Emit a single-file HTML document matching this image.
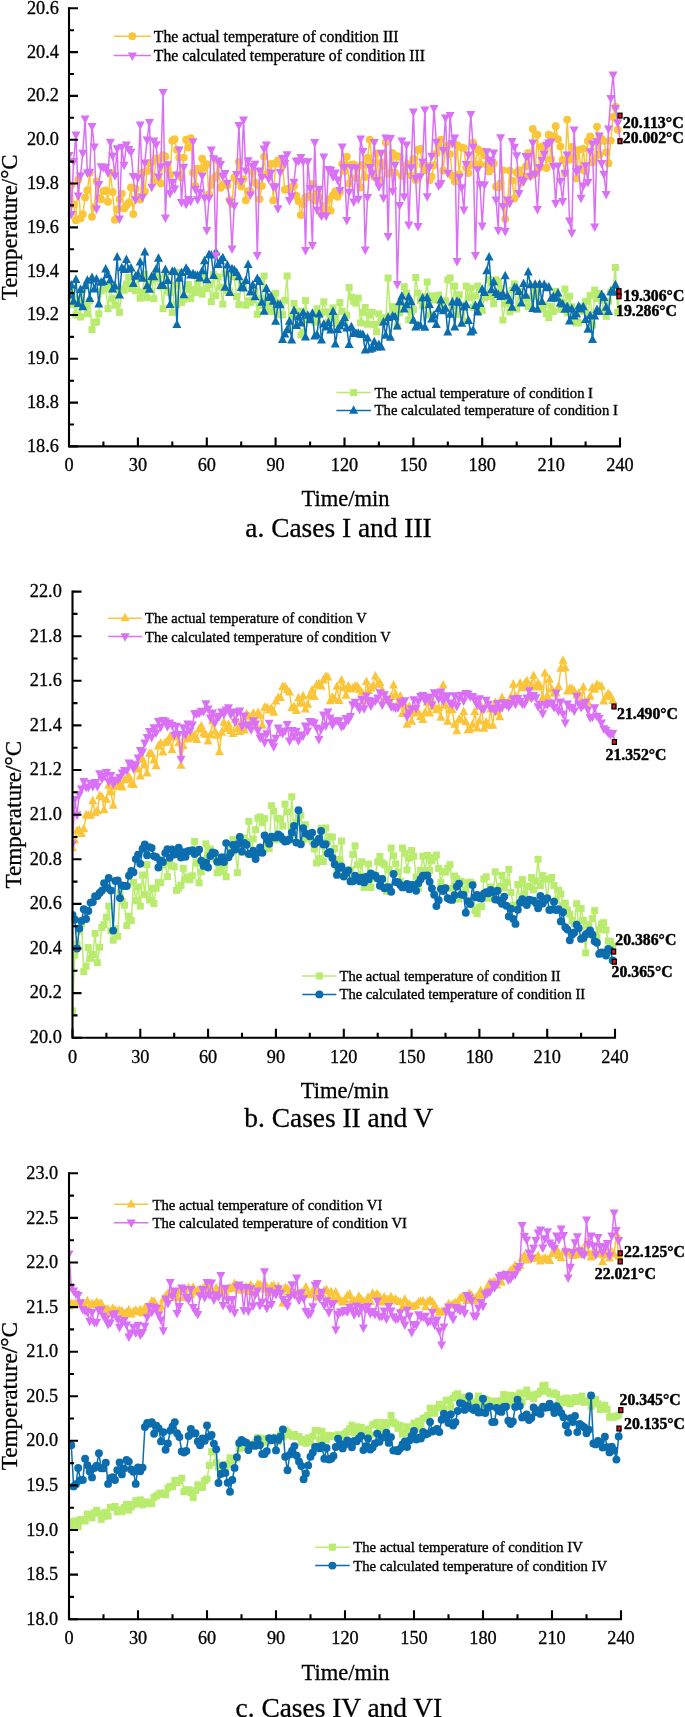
<!DOCTYPE html>
<html lang="en"><head><meta charset="utf-8"><title>Temperature charts</title>
<style>html,body{margin:0;padding:0;background:#fff}svg{display:block;will-change:transform}</style></head>
<body>
<svg width="685" height="1717" viewBox="0 0 685 1717" font-family='"Liberation Serif", serif' fill="#000">
<defs><marker id="mYc" markerWidth="12" markerHeight="12" refX="6" refY="6" markerUnits="userSpaceOnUse" orient="0"><circle cx="6" cy="6" r="3.95" fill="#FBC53A"/></marker><marker id="mYu" markerWidth="12" markerHeight="12" refX="6" refY="6" markerUnits="userSpaceOnUse" orient="0"><path d="M6 0.6 L10.5 9.1 L1.5 9.1 Z" fill="#FBC53A"/></marker><marker id="mPd" markerWidth="12" markerHeight="12" refX="6" refY="6" markerUnits="userSpaceOnUse" orient="0"><path d="M6 11.4 L10.5 2.9 L1.5 2.9 Z" fill="#DA70F5"/></marker><marker id="mGs" markerWidth="12" markerHeight="12" refX="6" refY="6" markerUnits="userSpaceOnUse" orient="0"><rect x="2.5" y="2.5" width="7.0" height="7.0" fill="#B9EC6E"/></marker><marker id="mBu" markerWidth="12" markerHeight="12" refX="6" refY="6" markerUnits="userSpaceOnUse" orient="0"><path d="M6 0.6 L10.5 9.1 L1.5 9.1 Z" fill="#0B6DAE"/></marker><marker id="mBc" markerWidth="12" markerHeight="12" refX="6" refY="6" markerUnits="userSpaceOnUse" orient="0"><circle cx="6" cy="6" r="3.95" fill="#0B6DAE"/></marker></defs>
<g>
<clipPath id="cl1"><rect x="68.2" y="-1.7" width="700" height="448.1"/></clipPath><g clip-path="url(#cl1)">
<polyline points="69.0,299.9 71.3,288.6 73.6,304.6 75.9,314.9 78.2,298.9 80.5,317.0 82.8,289.2 85.1,305.9 87.4,313.8 89.7,300.9 92.0,329.7 94.3,322.5 96.5,321.8 98.8,313.9 101.1,291.0 103.4,288.7 105.7,288.1 108.0,308.6 110.3,284.9 112.6,298.7 114.9,305.2 117.2,289.7 119.5,312.3 121.8,288.7 124.1,290.3 126.4,284.0 128.7,277.3 131.0,288.6 133.3,287.5 135.6,290.9 137.9,275.9 140.2,298.2 142.5,291.9 144.8,274.3 147.1,297.7 149.4,282.2 151.7,280.0 153.9,298.7 156.2,272.4 158.5,278.8 160.8,286.3 163.1,308.7 165.4,274.3 167.7,291.1 170.0,292.5 172.3,312.3 174.6,285.3 176.9,304.5 179.2,272.5 181.5,302.5 183.8,299.3 186.1,289.8 188.4,284.6 190.7,298.6 193.0,289.5 195.3,292.6 197.6,282.7 199.9,290.0 202.2,294.2 204.5,274.8 206.8,288.5 209.0,284.5 211.3,301.7 213.6,274.4 215.9,295.6 218.2,277.0 220.5,287.1 222.8,304.2 225.1,273.7 227.4,290.8 229.7,290.7 232.0,275.4 234.3,276.9 236.6,296.5 238.9,304.6 241.2,284.0 243.5,287.0 245.8,305.3 248.1,300.9 250.4,302.6 252.7,300.0 255.0,291.6 257.3,314.3 259.6,305.5 261.9,298.2 264.1,276.0 266.4,310.8 268.7,304.1 271.0,301.6 273.3,311.6 275.6,293.3 277.9,302.5 280.2,314.9 282.5,314.7 284.8,300.3 287.1,276.0 289.4,326.1 291.7,317.1 294.0,303.4 296.3,315.7 298.6,311.1 300.9,335.0 303.2,332.6 305.5,300.6 307.8,319.8 310.1,319.5 312.4,316.0 314.7,322.2 317.0,308.8 319.2,315.4 321.5,312.5 323.8,301.9 326.1,311.8 328.4,322.3 330.7,316.7 333.0,307.8 335.3,317.7 337.6,323.7 339.9,302.6 342.2,311.2 344.5,322.0 346.8,315.2 349.1,287.5 351.4,297.1 353.7,301.3 356.0,303.2 358.3,298.1 360.6,322.9 362.9,312.3 365.2,307.5 367.5,324.2 369.8,315.0 372.1,312.3 374.3,324.6 376.6,331.8 378.9,314.0 381.2,322.4 383.5,317.7 385.8,320.4 388.1,278.0 390.4,315.9 392.7,306.7 395.0,308.5 397.3,326.6 399.6,312.8 401.9,305.2 404.2,286.7 406.5,293.3 408.8,319.8 411.1,311.6 413.4,309.6 415.7,277.5 418.0,293.2 420.3,300.7 422.6,305.6 424.9,296.6 427.2,282.0 429.4,315.0 431.7,295.8 434.0,300.0 436.3,297.8 438.6,295.1 440.9,303.3 443.2,304.4 445.5,300.7 447.8,280.0 450.1,278.0 452.4,306.5 454.7,286.1 457.0,314.4 459.3,294.7 461.6,305.3 463.9,321.2 466.2,286.2 468.5,297.7 470.8,288.1 473.1,307.3 475.4,295.8 477.7,286.1 480.0,308.0 482.2,310.5 484.5,297.9 486.8,293.9 489.1,279.7 491.4,296.6 493.7,303.7 496.0,279.7 498.3,281.8 500.6,288.5 502.9,320.0 505.2,303.9 507.5,301.6 509.8,311.9 512.1,290.2 514.4,283.9 516.7,309.0 519.0,291.3 521.3,297.2 523.6,299.0 525.9,299.0 528.2,306.6 530.5,297.6 532.8,296.2 535.1,288.5 537.4,292.9 539.6,301.1 541.9,308.3 544.2,305.1 546.5,313.7 548.8,317.7 551.1,306.3 553.4,311.6 555.7,291.3 558.0,297.7 560.3,309.3 562.6,302.4 564.9,289.1 567.2,312.8 569.5,296.2 571.8,306.8 574.1,320.0 576.4,323.0 578.7,322.8 581.0,306.4 583.3,311.1 585.6,301.3 587.9,315.4 590.2,295.6 592.5,325.0 594.7,290.1 597.0,298.5 599.3,293.4 601.6,300.4 603.9,311.4 606.2,316.4 608.5,301.3 610.8,292.2 613.1,289.5 615.4,267.5 617.7,312.4 620.0,288.3" fill="none" stroke="#B9EC6E" stroke-width="1.5" stroke-linejoin="round" marker-start="url(#mGs)" marker-mid="url(#mGs)"/>
<polyline points="69.0,295.3 71.3,285.3 73.6,301.6 75.9,280.0 78.2,304.0 80.5,289.8 82.8,307.2 85.1,286.2 87.4,280.6 89.7,298.9 92.0,277.9 94.3,289.5 96.5,279.3 98.8,304.5 101.1,282.6 103.4,281.8 105.7,269.4 108.0,275.1 110.3,280.5 112.6,289.4 114.9,286.5 117.2,257.5 119.5,295.5 121.8,268.2 124.1,269.8 126.4,259.8 128.7,269.7 131.0,268.4 133.3,283.9 135.6,276.6 137.9,274.7 140.2,262.3 142.5,278.7 144.8,252.5 147.1,286.1 149.4,289.7 151.7,276.9 153.9,277.2 156.2,269.5 158.5,258.6 160.8,286.0 163.1,285.9 165.4,270.0 167.7,281.0 170.0,305.0 172.3,271.7 174.6,271.8 176.9,325.0 179.2,278.6 181.5,273.0 183.8,295.1 186.1,268.6 188.4,271.8 190.7,275.4 193.0,274.2 195.3,275.7 197.6,276.0 199.9,278.4 202.2,271.2 204.5,261.1 206.8,280.1 209.0,255.0 211.3,255.5 213.6,275.8 215.9,252.5 218.2,265.0 220.5,261.1 222.8,258.1 225.1,287.7 227.4,265.3 229.7,292.9 232.0,269.2 234.3,270.4 236.6,273.0 238.9,277.1 241.2,287.8 243.5,288.4 245.8,280.8 248.1,265.0 250.4,292.4 252.7,285.5 255.0,297.1 257.3,278.9 259.6,282.0 261.9,302.6 264.1,311.7 266.4,288.8 268.7,297.9 271.0,296.3 273.3,301.7 275.6,321.6 277.9,304.8 280.2,305.1 282.5,340.0 284.8,334.5 287.1,330.2 289.4,321.6 291.7,340.5 294.0,311.0 296.3,325.8 298.6,317.2 300.9,323.4 303.2,312.8 305.5,337.4 307.8,315.6 310.1,320.1 312.4,313.7 314.7,336.5 317.0,335.2 319.2,314.4 321.5,340.5 323.8,324.3 326.1,327.4 328.4,322.8 330.7,330.3 333.0,311.9 335.3,344.5 337.6,329.9 339.9,326.5 342.2,323.3 344.5,318.0 346.8,328.5 349.1,345.0 351.4,327.1 353.7,333.8 356.0,333.6 358.3,333.6 360.6,334.6 362.9,334.9 365.2,350.4 367.5,338.3 369.8,349.6 372.1,348.7 374.3,342.1 376.6,347.5 378.9,345.0 381.2,347.5 383.5,322.3 385.8,335.6 388.1,318.0 390.4,337.7 392.7,316.4 395.0,317.1 397.3,326.4 399.6,302.1 401.9,296.4 404.2,309.4 406.5,305.2 408.8,297.5 411.1,302.2 413.4,320.7 415.7,327.5 418.0,325.9 420.3,326.0 422.6,298.5 424.9,327.7 427.2,298.0 429.4,304.9 431.7,319.3 434.0,315.3 436.3,324.8 438.6,309.2 440.9,300.4 443.2,311.1 445.5,308.6 447.8,332.5 450.1,314.6 452.4,302.4 454.7,327.4 457.0,301.7 459.3,303.0 461.6,323.6 463.9,307.4 466.2,305.1 468.5,320.9 470.8,332.5 473.1,330.6 475.4,305.9 477.7,312.5 480.0,304.0 482.2,289.6 484.5,292.9 486.8,271.2 489.1,257.5 491.4,290.2 493.7,282.2 496.0,293.0 498.3,295.0 500.6,297.0 502.9,294.1 505.2,276.2 507.5,296.3 509.8,300.6 512.1,307.7 514.4,288.0 516.7,288.4 519.0,291.8 521.3,303.4 523.6,284.0 525.9,295.7 528.2,272.5 530.5,285.2 532.8,308.9 535.1,284.7 537.4,309.7 539.6,284.5 541.9,301.8 544.2,284.8 546.5,288.2 548.8,287.5 551.1,298.7 553.4,296.8 555.7,298.6 558.0,293.3 560.3,303.3 562.6,304.5 564.9,309.6 567.2,307.0 569.5,321.3 571.8,309.2 574.1,316.5 576.4,314.1 578.7,306.6 581.0,309.4 583.3,307.1 585.6,320.0 587.9,329.6 590.2,315.9 592.5,340.0 594.7,316.4 597.0,309.9 599.3,312.0 601.6,294.9 603.9,297.9 606.2,307.6 608.5,312.0 610.8,292.1 613.1,292.5 615.4,285.2 617.7,292.5 620.0,296.0" fill="none" stroke="#0B6DAE" stroke-width="1.5" stroke-linejoin="round" marker-start="url(#mBu)" marker-mid="url(#mBu)"/>
<polyline points="69.0,204.0 71.3,185.1 73.6,204.4 75.9,220.2 78.2,179.8 80.5,218.4 82.8,214.1 85.1,197.4 87.4,190.2 89.7,172.7 92.0,216.7 94.3,206.9 96.5,181.2 98.8,198.0 101.1,199.4 103.4,191.2 105.7,190.4 108.0,201.7 110.3,172.8 112.6,191.9 114.9,219.8 117.2,209.4 119.5,199.2 121.8,193.6 124.1,208.5 126.4,205.5 128.7,202.7 131.0,187.5 133.3,214.1 135.6,188.7 137.9,197.0 140.2,199.6 142.5,172.4 144.8,191.5 147.1,170.9 149.4,163.2 151.7,162.1 153.9,180.9 156.2,158.1 158.5,158.8 160.8,183.5 163.1,155.1 165.4,156.4 167.7,169.3 170.0,174.8 172.3,140.7 174.6,139.3 176.9,149.8 179.2,157.6 181.5,177.5 183.8,157.6 186.1,139.8 188.4,147.6 190.7,138.2 193.0,172.8 195.3,185.8 197.6,168.6 199.9,170.2 202.2,158.6 204.5,167.9 206.8,164.1 209.0,194.2 211.3,185.3 213.6,178.5 215.9,176.0 218.2,161.1 220.5,187.8 222.8,184.6 225.1,184.7 227.4,185.4 229.7,199.9 232.0,204.1 234.3,177.4 236.6,181.1 238.9,161.9 241.2,186.6 243.5,179.1 245.8,200.3 248.1,191.3 250.4,191.8 252.7,171.9 255.0,182.5 257.3,185.1 259.6,199.1 261.9,185.9 264.1,156.6 266.4,174.6 268.7,173.1 271.0,163.9 273.3,200.4 275.6,163.8 277.9,160.4 280.2,162.1 282.5,165.8 284.8,189.8 287.1,189.0 289.4,188.5 291.7,187.1 294.0,185.9 296.3,195.8 298.6,201.2 300.9,215.0 303.2,204.2 305.5,197.2 307.8,197.2 310.1,195.6 312.4,184.0 314.7,200.6 317.0,193.1 319.2,197.3 321.5,214.2 323.8,205.7 326.1,209.2 328.4,199.2 330.7,210.6 333.0,195.3 335.3,191.5 337.6,196.7 339.9,191.9 342.2,164.1 344.5,171.0 346.8,156.8 349.1,183.5 351.4,164.6 353.7,164.5 356.0,177.9 358.3,166.4 360.6,187.5 362.9,164.7 365.2,177.1 367.5,157.8 369.8,139.7 372.1,163.3 374.3,177.1 376.6,153.5 378.9,179.6 381.2,162.7 383.5,166.0 385.8,142.4 388.1,173.9 390.4,172.2 392.7,153.1 395.0,172.6 397.3,156.3 399.6,156.6 401.9,175.9 404.2,171.6 406.5,164.9 408.8,164.3 411.1,175.6 413.4,158.8 415.7,179.9 418.0,149.9 420.3,149.0 422.6,165.0 424.9,170.0 427.2,166.0 429.4,180.3 431.7,176.6 434.0,165.2 436.3,153.4 438.6,147.1 440.9,139.8 443.2,170.5 445.5,149.5 447.8,145.5 450.1,154.1 452.4,176.0 454.7,181.5 457.0,144.9 459.3,174.2 461.6,147.5 463.9,148.1 466.2,167.7 468.5,173.1 470.8,165.0 473.1,142.6 475.4,164.5 477.7,149.3 480.0,164.2 482.2,151.5 484.5,155.4 486.8,164.6 489.1,171.4 491.4,169.3 493.7,163.5 496.0,186.8 498.3,187.4 500.6,183.3 502.9,170.1 505.2,219.0 507.5,203.2 509.8,170.8 512.1,180.6 514.4,198.4 516.7,172.8 519.0,170.3 521.3,182.8 523.6,176.0 525.9,166.5 528.2,153.0 530.5,176.1 532.8,129.0 535.1,173.5 537.4,134.8 539.6,167.7 541.9,146.6 544.2,147.6 546.5,168.0 548.8,134.8 551.1,159.1 553.4,136.3 555.7,126.2 558.0,139.3 560.3,146.4 562.6,159.9 564.9,173.3 567.2,119.6 569.5,159.7 571.8,146.9 574.1,156.7 576.4,178.4 578.7,150.0 581.0,169.6 583.3,148.7 585.6,171.2 587.9,141.0 590.2,136.4 592.5,162.4 594.7,158.4 597.0,126.6 599.3,154.7 601.6,138.9 603.9,140.9 606.2,152.2 608.5,163.2 610.8,140.6 613.1,117.0 615.4,106.7 617.7,129.8 620.0,115.6" fill="none" stroke="#FBC53A" stroke-width="1.5" stroke-linejoin="round" marker-start="url(#mYc)" marker-mid="url(#mYc)"/>
<polyline points="69.0,155.0 71.3,214.0 73.6,161.2 75.9,134.5 78.2,195.5 80.5,175.3 82.8,152.8 85.1,118.5 87.4,172.7 89.7,171.8 92.0,126.0 94.3,146.7 96.5,208.5 98.8,184.2 101.1,166.4 103.4,167.1 105.7,166.9 108.0,172.6 110.3,141.8 112.6,155.6 114.9,175.3 117.2,148.4 119.5,218.5 121.8,146.9 124.1,164.9 126.4,144.5 128.7,149.1 131.0,151.8 133.3,176.0 135.6,199.4 137.9,177.5 140.2,124.5 142.5,196.9 144.8,162.6 147.1,139.5 149.4,122.0 151.7,186.9 153.9,140.7 156.2,144.3 158.5,176.5 160.8,166.4 163.1,92.0 165.4,217.5 167.7,164.4 170.0,193.0 172.3,181.9 174.6,188.6 176.9,174.5 179.2,149.5 181.5,202.0 183.8,166.8 186.1,203.9 188.4,199.0 190.7,200.8 193.0,141.4 195.3,188.9 197.6,199.4 199.9,192.2 202.2,175.5 204.5,197.6 206.8,230.0 209.0,197.9 211.3,149.5 213.6,158.3 215.9,255.0 218.2,160.6 220.5,164.1 222.8,175.8 225.1,173.0 227.4,182.8 229.7,201.6 232.0,248.5 234.3,205.7 236.6,174.0 238.9,125.0 241.2,181.0 243.5,119.5 245.8,170.6 248.1,160.3 250.4,194.5 252.7,166.2 255.0,163.8 257.3,255.0 259.6,170.7 261.9,177.0 264.1,148.6 266.4,144.5 268.7,178.5 271.0,172.7 273.3,186.3 275.6,186.4 277.9,208.4 280.2,172.2 282.5,158.1 284.8,163.1 287.1,154.4 289.4,200.1 291.7,195.7 294.0,181.8 296.3,160.8 298.6,160.5 300.9,157.2 303.2,161.4 305.5,250.0 307.8,161.3 310.1,188.2 312.4,245.0 314.7,142.0 317.0,209.7 319.2,188.9 321.5,215.6 323.8,156.5 326.1,215.5 328.4,169.2 330.7,169.9 333.0,176.3 335.3,172.5 337.6,179.6 339.9,190.1 342.2,146.5 344.5,167.1 346.8,220.0 349.1,191.8 351.4,167.4 353.7,201.6 356.0,167.6 358.3,198.8 360.6,138.5 362.9,151.1 365.2,249.5 367.5,197.1 369.8,167.1 372.1,173.3 374.3,142.0 376.6,180.2 378.9,186.3 381.2,152.9 383.5,197.7 385.8,137.5 388.1,236.0 390.4,138.2 392.7,190.9 395.0,164.9 397.3,284.0 399.6,205.0 401.9,140.6 404.2,196.4 406.5,144.5 408.8,224.5 411.1,167.4 413.4,111.5 415.7,178.2 418.0,226.0 420.3,176.4 422.6,161.5 424.9,109.5 427.2,196.3 429.4,167.4 431.7,155.9 434.0,108.0 436.3,141.9 438.6,185.5 440.9,183.1 443.2,150.2 445.5,117.5 447.8,172.8 450.1,115.0 452.4,143.1 454.7,137.5 457.0,261.0 459.3,176.9 461.6,187.4 463.9,209.5 466.2,164.0 468.5,154.6 470.8,114.0 473.1,146.8 475.4,255.0 477.7,169.4 480.0,184.3 482.2,225.5 484.5,184.5 486.8,151.4 489.1,159.6 491.4,162.0 493.7,152.6 496.0,199.5 498.3,230.0 500.6,137.4 502.9,206.2 505.2,231.0 507.5,199.5 509.8,202.9 512.1,141.0 514.4,146.9 516.7,155.3 519.0,193.0 521.3,179.7 523.6,181.1 525.9,156.0 528.2,156.1 530.5,175.9 532.8,142.5 535.1,173.9 537.4,209.0 539.6,167.1 541.9,160.2 544.2,153.8 546.5,144.9 548.8,142.5 551.1,141.6 553.4,166.0 555.7,203.0 558.0,165.7 560.3,180.9 562.6,201.0 564.9,172.9 567.2,154.5 569.5,220.5 571.8,232.5 574.1,129.5 576.4,171.2 578.7,168.7 581.0,197.8 583.3,185.5 585.6,165.3 587.9,182.0 590.2,151.4 592.5,143.5 594.7,226.5 597.0,141.4 599.3,135.5 601.6,163.0 603.9,173.9 606.2,194.0 608.5,128.6 610.8,98.0 613.1,74.5 615.4,108.0 617.7,122.5 620.0,139.5" fill="none" stroke="#DA70F5" stroke-width="1.5" stroke-linejoin="round" marker-start="url(#mPd)" marker-mid="url(#mPd)"/>
</g>
<path d="M69.0 8.3 V446.4 H620.0" fill="none" stroke="#000" stroke-width="2.1" stroke-linecap="square"/>
<text x="58.9" y="13.7" font-size="18.25" text-anchor="end" stroke="#000" stroke-width="0.3">20.6</text>
<text x="58.9" y="57.5" font-size="18.25" text-anchor="end" stroke="#000" stroke-width="0.3">20.4</text>
<text x="58.9" y="101.3" font-size="18.25" text-anchor="end" stroke="#000" stroke-width="0.3">20.2</text>
<text x="58.9" y="145.1" font-size="18.25" text-anchor="end" stroke="#000" stroke-width="0.3">20.0</text>
<text x="58.9" y="188.9" font-size="18.25" text-anchor="end" stroke="#000" stroke-width="0.3">19.8</text>
<text x="58.9" y="232.8" font-size="18.25" text-anchor="end" stroke="#000" stroke-width="0.3">19.6</text>
<text x="58.9" y="276.6" font-size="18.25" text-anchor="end" stroke="#000" stroke-width="0.3">19.4</text>
<text x="58.9" y="320.4" font-size="18.25" text-anchor="end" stroke="#000" stroke-width="0.3">19.2</text>
<text x="58.9" y="364.2" font-size="18.25" text-anchor="end" stroke="#000" stroke-width="0.3">19.0</text>
<text x="58.9" y="408.0" font-size="18.25" text-anchor="end" stroke="#000" stroke-width="0.3">18.8</text>
<text x="58.9" y="451.8" font-size="18.25" text-anchor="end" stroke="#000" stroke-width="0.3">18.6</text>
<text x="69.0" y="470.8" font-size="18.25" text-anchor="middle" stroke="#000" stroke-width="0.3">0</text>
<text x="137.9" y="470.8" font-size="18.25" text-anchor="middle" stroke="#000" stroke-width="0.3">30</text>
<text x="206.8" y="470.8" font-size="18.25" text-anchor="middle" stroke="#000" stroke-width="0.3">60</text>
<text x="275.6" y="470.8" font-size="18.25" text-anchor="middle" stroke="#000" stroke-width="0.3">90</text>
<text x="344.5" y="470.8" font-size="18.25" text-anchor="middle" stroke="#000" stroke-width="0.3">120</text>
<text x="413.4" y="470.8" font-size="18.25" text-anchor="middle" stroke="#000" stroke-width="0.3">150</text>
<text x="482.2" y="470.8" font-size="18.25" text-anchor="middle" stroke="#000" stroke-width="0.3">180</text>
<text x="551.1" y="470.8" font-size="18.25" text-anchor="middle" stroke="#000" stroke-width="0.3">210</text>
<text x="620.0" y="470.8" font-size="18.25" text-anchor="middle" stroke="#000" stroke-width="0.3">240</text>
<path d="M69.0 8.3h9.0M69.0 30.2h5.0M69.0 52.1h9.0M69.0 74.0h5.0M69.0 95.9h9.0M69.0 117.8h5.0M69.0 139.7h9.0M69.0 161.6h5.0M69.0 183.5h9.0M69.0 205.4h5.0M69.0 227.4h9.0M69.0 249.3h5.0M69.0 271.2h9.0M69.0 293.1h5.0M69.0 315.0h9.0M69.0 336.9h5.0M69.0 358.8h9.0M69.0 380.7h5.0M69.0 402.6h9.0M69.0 424.5h5.0M69.0 446.4h9.0M69.0 446.4v-9.0M103.4 446.4v-5.0M137.9 446.4v-9.0M172.3 446.4v-5.0M206.8 446.4v-9.0M241.2 446.4v-5.0M275.6 446.4v-9.0M310.1 446.4v-5.0M344.5 446.4v-9.0M378.9 446.4v-5.0M413.4 446.4v-9.0M447.8 446.4v-5.0M482.2 446.4v-9.0M516.7 446.4v-5.0M551.1 446.4v-9.0M585.6 446.4v-5.0M620.0 446.4v-9.0" fill="none" stroke="#000" stroke-width="2.1"/>
<text transform="translate(16.9 227.3) rotate(-90)" font-size="22.83" text-anchor="middle" stroke="#000" stroke-width="0.3">Temperature/°C</text>
<text x="345.5" y="505.9" font-size="22.55" text-anchor="middle" stroke="#000" stroke-width="0.3">Time/min</text>
<text x="338.5" y="536.8" font-size="27.4" text-anchor="middle" stroke="#000" stroke-width="0.3">a. Cases I and III</text>
<polyline points="113.8,36.3 132.3,36.3 150.9,36.3" stroke="#FBC53A" stroke-width="1.5" fill="none" marker-mid="url(#mYc)"/>
<text x="153.8" y="41.9" font-size="15.7" text-anchor="start" textLength="244.8" lengthAdjust="spacingAndGlyphs" stroke="#000" stroke-width="0.35">The actual temperature of condition III</text>
<polyline points="113.8,55.5 132.3,55.5 150.9,55.5" stroke="#DA70F5" stroke-width="1.5" fill="none" marker-mid="url(#mPd)"/>
<text x="153.8" y="61.1" font-size="15.7" text-anchor="start" textLength="271.1" lengthAdjust="spacingAndGlyphs" stroke="#000" stroke-width="0.35">The calculated temperature of condition III</text>
<polyline points="336.4,392.6 353.6,392.6 370.9,392.6" stroke="#B9EC6E" stroke-width="1.5" fill="none" marker-mid="url(#mGs)"/>
<text x="374.6" y="397.7" font-size="14.63" text-anchor="start" textLength="218.4" lengthAdjust="spacingAndGlyphs" stroke="#000" stroke-width="0.35">The actual temperature of condition I</text>
<polyline points="336.4,410.6 353.6,410.6 370.9,410.6" stroke="#0B6DAE" stroke-width="1.5" fill="none" marker-mid="url(#mBu)"/>
<text x="374.6" y="415.4" font-size="14.63" text-anchor="start" textLength="243.2" lengthAdjust="spacingAndGlyphs" stroke="#000" stroke-width="0.35">The calculated temperature of condition I</text>
<rect x="618.0" y="113.2" width="4.0" height="4.8" fill="#e8101a" stroke="#000" stroke-width="1.3"/>
<rect x="618.0" y="138.8" width="4.0" height="4.8" fill="#e8101a" stroke="#000" stroke-width="1.3"/>
<rect x="617.0" y="288.8" width="4.0" height="4.8" fill="#e8101a" stroke="#000" stroke-width="1.3"/>
<rect x="617.0" y="293.9" width="4.0" height="4.8" fill="#e8101a" stroke="#000" stroke-width="1.3"/>
<text x="622.8" y="127.9" font-size="15.7" text-anchor="start" font-weight="bold" textLength="61.0" lengthAdjust="spacingAndGlyphs" stroke="#000" stroke-width="0.45">20.113°C</text>
<text x="622.8" y="143.2" font-size="15.7" text-anchor="start" font-weight="bold" textLength="61.0" lengthAdjust="spacingAndGlyphs" stroke="#000" stroke-width="0.45">20.002°C</text>
<text x="623.3" y="300.8" font-size="15.7" text-anchor="start" font-weight="bold" textLength="61.0" lengthAdjust="spacingAndGlyphs" stroke="#000" stroke-width="0.45">19.306°C</text>
<text x="616.0" y="315.7" font-size="15.7" text-anchor="start" font-weight="bold" textLength="61.0" lengthAdjust="spacingAndGlyphs" stroke="#000" stroke-width="0.45">19.286°C</text>
</g>
<g>
<clipPath id="cl5"><rect x="71.7" y="581.6" width="700" height="456.1"/></clipPath><g clip-path="url(#cl5)">
<polyline points="72.5,1010.9 74.8,955.1 77.0,944.1 79.3,930.8 81.5,923.6 83.8,971.6 86.1,966.2 88.3,947.6 90.6,958.3 92.8,954.5 95.1,933.4 97.4,962.7 99.6,947.3 101.9,927.3 104.1,924.6 106.4,917.3 108.7,906.2 110.9,930.9 113.2,940.2 115.4,928.7 117.7,936.3 120.0,892.9 122.2,901.2 124.5,905.2 126.8,925.7 129.0,916.2 131.3,920.6 133.5,882.3 135.8,900.7 138.1,886.9 140.3,906.1 142.6,875.0 144.8,894.6 147.1,864.6 149.4,900.0 151.6,888.4 153.9,903.6 156.1,888.2 158.4,882.4 160.7,882.7 162.9,864.8 165.2,862.9 167.4,876.6 169.7,860.3 172.0,865.7 174.2,866.7 176.5,890.4 178.7,888.0 181.0,885.3 183.3,868.3 185.5,879.3 187.8,876.8 190.0,879.8 192.3,875.8 194.6,841.4 196.8,863.1 199.1,882.8 201.3,871.9 203.6,866.4 205.9,843.9 208.1,855.3 210.4,849.1 212.6,856.4 214.9,858.9 217.2,872.8 219.4,867.9 221.7,871.7 223.9,864.4 226.2,876.8 228.5,854.4 230.7,850.5 233.0,839.6 235.2,847.5 237.5,872.7 239.8,840.9 242.0,852.5 244.3,838.2 246.6,841.5 248.8,821.3 251.1,854.0 253.3,838.9 255.6,829.7 257.9,818.2 260.1,816.9 262.4,822.7 264.6,818.6 266.9,845.5 269.2,848.7 271.4,805.7 273.7,811.1 275.9,839.7 278.2,818.4 280.5,819.3 282.7,826.0 285.0,804.2 287.2,811.9 289.5,839.9 291.8,796.8 294.0,834.7 296.3,822.5 298.5,817.6 300.8,815.3 303.1,839.8 305.3,824.7 307.6,835.7 309.8,838.2 312.1,840.9 314.4,849.0 316.6,862.9 318.9,858.7 321.1,828.4 323.4,861.6 325.7,828.0 327.9,841.3 330.2,836.8 332.4,837.1 334.7,848.4 337.0,869.5 339.2,859.4 341.5,841.1 343.8,872.9 346.0,875.0 348.3,872.8 350.5,869.9 352.8,854.4 355.1,845.9 357.3,864.8 359.6,876.4 361.8,861.8 364.1,887.4 366.4,877.2 368.6,864.0 370.9,887.5 373.1,878.0 375.4,875.3 377.7,861.9 379.9,856.5 382.2,862.8 384.4,864.7 386.7,891.3 389.0,869.6 391.2,848.1 393.5,855.8 395.7,863.9 398.0,871.9 400.3,881.5 402.5,848.0 404.8,853.4 407.0,870.0 409.3,858.1 411.6,850.6 413.8,856.2 416.1,877.1 418.3,888.5 420.6,870.3 422.9,856.2 425.1,870.5 427.4,855.4 429.6,870.5 431.9,860.9 434.2,857.4 436.4,855.0 438.7,868.5 440.9,882.5 443.2,871.8 445.5,872.1 447.7,868.2 450.0,864.7 452.2,888.3 454.5,876.0 456.8,878.8 459.0,899.0 461.3,881.4 463.6,894.2 465.8,889.6 468.1,882.8 470.3,882.2 472.6,884.3 474.9,910.6 477.1,913.8 479.4,906.9 481.6,906.6 483.9,878.9 486.2,876.8 488.4,898.3 490.7,887.0 492.9,896.8 495.2,871.9 497.5,890.5 499.7,886.3 502.0,875.5 504.2,887.9 506.5,882.3 508.8,869.3 511.0,892.5 513.3,905.3 515.5,908.5 517.8,884.4 520.1,903.0 522.3,879.5 524.6,893.5 526.8,886.1 529.1,886.9 531.4,877.5 533.6,889.9 535.9,880.9 538.1,859.3 540.4,885.8 542.7,875.6 544.9,879.0 547.2,899.0 549.4,879.0 551.7,877.5 554.0,885.4 556.2,900.3 558.5,890.1 560.8,894.0 563.0,905.7 565.3,903.3 567.5,910.1 569.8,914.2 572.1,920.5 574.3,923.1 576.6,903.7 578.8,928.6 581.1,908.5 583.4,920.4 585.6,952.9 587.9,924.8 590.1,934.8 592.4,918.5 594.7,910.6 596.9,937.4 599.2,929.7 601.4,924.0 603.7,922.7 606.0,930.0 608.2,941.1 610.5,941.4 612.7,946.0 615.0,950.7" fill="none" stroke="#B9EC6E" stroke-width="1.5" stroke-linejoin="round" marker-start="url(#mGs)" marker-mid="url(#mGs)"/>
<polyline points="72.5,915.0 74.8,919.5 77.0,948.5 79.3,928.4 81.5,920.9 83.8,909.2 86.1,919.0 88.3,911.0 90.6,902.6 92.8,902.0 95.1,896.3 97.4,896.1 99.6,893.0 101.9,890.6 104.1,883.3 106.4,887.7 108.7,877.9 110.9,890.5 113.2,930.6 115.4,880.9 117.7,880.5 120.0,898.1 122.2,885.4 124.5,886.0 126.8,886.0 129.0,875.8 131.3,870.9 133.5,872.3 135.8,859.1 138.1,854.6 140.3,863.8 142.6,848.8 144.8,844.4 147.1,855.3 149.4,847.1 151.6,847.9 153.9,856.1 156.1,857.0 158.4,867.5 160.7,860.5 162.9,862.1 165.2,853.1 167.4,849.2 169.7,857.7 172.0,849.4 174.2,854.6 176.5,853.7 178.7,847.8 181.0,857.5 183.3,852.1 185.5,856.7 187.8,851.2 190.0,850.9 192.3,850.2 194.6,854.0 196.8,852.3 199.1,849.8 201.3,860.7 203.6,865.9 205.9,862.6 208.1,867.5 210.4,856.0 212.6,852.5 214.9,853.1 217.2,861.8 219.4,861.5 221.7,857.1 223.9,862.0 226.2,843.1 228.5,857.3 230.7,853.3 233.0,845.0 235.2,849.5 237.5,844.2 239.8,837.0 242.0,851.5 244.3,842.9 246.6,844.8 248.8,854.0 251.1,853.7 253.3,850.8 255.6,859.1 257.9,852.7 260.1,847.5 262.4,852.8 264.6,835.4 266.9,839.3 269.2,843.8 271.4,836.7 273.7,837.3 275.9,837.4 278.2,834.5 280.5,836.2 282.7,839.3 285.0,841.6 287.2,841.0 289.5,839.2 291.8,832.5 294.0,825.9 296.3,842.5 298.5,810.2 300.8,844.3 303.1,828.3 305.3,833.3 307.6,834.1 309.8,836.2 312.1,832.8 314.4,844.1 316.6,842.3 318.9,838.6 321.1,831.0 323.4,844.6 325.7,844.2 327.9,853.5 330.2,851.9 332.4,857.9 334.7,864.3 337.0,874.9 339.2,868.1 341.5,866.5 343.8,876.6 346.0,872.8 348.3,870.5 350.5,881.4 352.8,881.3 355.1,875.6 357.3,877.8 359.6,881.2 361.8,877.8 364.1,882.4 366.4,876.8 368.6,879.5 370.9,873.4 373.1,875.2 375.4,875.7 377.7,878.6 379.9,885.7 382.2,879.0 384.4,888.3 386.7,887.4 389.0,887.2 391.2,891.8 393.5,874.0 395.7,882.0 398.0,882.1 400.3,885.0 402.5,887.4 404.8,886.7 407.0,884.0 409.3,889.2 411.6,884.9 413.8,885.2 416.1,890.8 418.3,883.2 420.6,879.3 422.9,875.8 425.1,875.6 427.4,875.4 429.6,881.8 431.9,888.4 434.2,894.8 436.4,906.1 438.7,900.3 440.9,888.9 443.2,891.0 445.5,888.3 447.7,898.3 450.0,899.6 452.2,899.9 454.5,895.2 456.8,886.5 459.0,883.8 461.3,894.6 463.6,894.9 465.8,912.8 468.1,901.3 470.3,904.1 472.6,885.1 474.9,897.2 477.1,894.9 479.4,898.1 481.6,898.5 483.9,893.7 486.2,892.2 488.4,893.2 490.7,890.0 492.9,892.1 495.2,899.5 497.5,890.7 499.7,900.8 502.0,903.8 504.2,896.7 506.5,905.7 508.8,916.4 511.0,908.8 513.3,918.9 515.5,923.9 517.8,909.7 520.1,902.8 522.3,899.3 524.6,902.6 526.8,905.0 529.1,899.8 531.4,900.4 533.6,900.6 535.9,903.1 538.1,908.2 540.4,896.0 542.7,903.5 544.9,899.9 547.2,898.1 549.4,910.0 551.7,909.5 554.0,901.8 556.2,910.1 558.5,909.2 560.8,921.4 563.0,912.2 565.3,927.2 567.5,929.6 569.8,940.2 572.1,934.4 574.3,932.5 576.6,924.8 578.8,928.1 581.1,938.9 583.4,937.9 585.6,934.6 587.9,932.9 590.1,930.5 592.4,934.7 594.7,941.3 596.9,942.7 599.2,953.9 601.4,952.5 603.7,952.8 606.0,955.6 608.2,949.0 610.5,950.5 612.7,960.5 615.0,961.5" fill="none" stroke="#0B6DAE" stroke-width="1.5" stroke-linejoin="round" marker-start="url(#mBc)" marker-mid="url(#mBc)"/>
<polyline points="72.5,848.1 74.8,840.5 77.0,830.9 79.3,830.3 81.5,833.8 83.8,829.2 86.1,815.2 88.3,815.6 90.6,815.3 92.8,801.2 95.1,813.1 97.4,811.1 99.6,795.8 101.9,797.1 104.1,810.1 106.4,799.7 108.7,785.7 110.9,792.2 113.2,805.7 115.4,786.7 117.7,786.7 120.0,784.6 122.2,787.4 124.5,780.1 126.8,779.3 129.0,777.0 131.3,784.2 133.5,784.8 135.8,766.0 138.1,769.3 140.3,776.4 142.6,759.5 144.8,765.5 147.1,773.3 149.4,753.6 151.6,754.2 153.9,760.5 156.1,766.1 158.4,746.4 160.7,743.5 162.9,752.3 165.2,742.8 167.4,741.5 169.7,737.4 172.0,750.2 174.2,736.0 176.5,737.3 178.7,743.1 181.0,765.6 183.3,746.2 185.5,737.2 187.8,739.5 190.0,738.0 192.3,735.6 194.6,735.6 196.8,739.9 199.1,729.4 201.3,726.4 203.6,733.3 205.9,734.9 208.1,741.3 210.4,735.0 212.6,721.1 214.9,731.6 217.2,735.6 219.4,752.2 221.7,732.7 223.9,722.6 226.2,728.9 228.5,724.7 230.7,730.9 233.0,734.0 235.2,719.7 237.5,729.2 239.8,731.8 242.0,721.4 244.3,730.3 246.6,714.1 248.8,716.6 251.1,722.0 253.3,713.4 255.6,724.3 257.9,713.0 260.1,715.6 262.4,725.7 264.6,707.7 266.9,707.6 269.2,710.3 271.4,708.5 273.7,712.7 275.9,701.3 278.2,697.8 280.5,697.8 282.7,687.0 285.0,687.1 287.2,690.1 289.5,692.5 291.8,708.2 294.0,706.9 296.3,710.9 298.5,698.2 300.8,703.6 303.1,696.1 305.3,709.3 307.6,704.6 309.8,695.6 312.1,690.3 314.4,697.0 316.6,685.2 318.9,684.0 321.1,686.3 323.4,680.5 325.7,677.0 327.9,677.3 330.2,701.1 332.4,697.3 334.7,699.4 337.0,686.6 339.2,700.8 341.5,680.4 343.8,688.2 346.0,695.7 348.3,686.3 350.5,689.5 352.8,688.5 355.1,686.5 357.3,686.6 359.6,689.8 361.8,692.6 364.1,701.5 366.4,682.0 368.6,690.9 370.9,688.4 373.1,686.1 375.4,676.4 377.7,684.7 379.9,683.0 382.2,690.3 384.4,698.9 386.7,699.3 389.0,699.9 391.2,697.0 393.5,685.4 395.7,694.6 398.0,703.7 400.3,696.5 402.5,713.9 404.8,705.5 407.0,724.6 409.3,707.0 411.6,721.7 413.8,713.4 416.1,710.0 418.3,712.4 420.6,716.9 422.9,720.0 425.1,712.7 427.4,702.7 429.6,713.5 431.9,700.5 434.2,707.1 436.4,710.1 438.7,707.8 440.9,717.6 443.2,685.3 445.5,705.7 447.7,721.6 450.0,710.4 452.2,709.9 454.5,724.6 456.8,731.1 459.0,719.7 461.3,720.1 463.6,711.8 465.8,722.2 468.1,730.1 470.3,729.5 472.6,724.6 474.9,711.8 477.1,728.5 479.4,721.4 481.6,707.0 483.9,728.7 486.2,722.4 488.4,725.6 490.7,709.3 492.9,725.7 495.2,702.7 497.5,712.3 499.7,717.2 502.0,697.9 504.2,702.3 506.5,705.5 508.8,703.7 511.0,697.2 513.3,684.6 515.5,696.5 517.8,697.7 520.1,683.3 522.3,688.1 524.6,684.2 526.8,681.0 529.1,698.1 531.4,684.6 533.6,675.9 535.9,687.4 538.1,683.7 540.4,686.6 542.7,698.0 544.9,673.5 547.2,695.9 549.4,679.7 551.7,689.3 554.0,693.4 556.2,693.4 558.5,686.6 560.8,668.7 563.0,660.7 565.3,668.1 567.5,691.3 569.8,688.8 572.1,689.0 574.3,691.4 576.6,695.3 578.8,693.3 581.1,703.0 583.4,687.4 585.6,703.6 587.9,702.4 590.1,696.6 592.4,687.9 594.7,689.6 596.9,684.7 599.2,686.4 601.4,686.7 603.7,701.5 606.0,696.9 608.2,693.9 610.5,696.1 612.7,700.9 615.0,705.4" fill="none" stroke="#FBC53A" stroke-width="1.5" stroke-linejoin="round" marker-start="url(#mYu)" marker-mid="url(#mYu)"/>
<polyline points="72.5,843.6 74.8,799.0 77.0,814.7 79.3,794.0 81.5,788.6 83.8,781.1 86.1,786.8 88.3,786.8 90.6,783.0 92.8,786.1 95.1,782.2 97.4,786.1 99.6,773.3 101.9,778.5 104.1,775.9 106.4,772.1 108.7,781.3 110.9,775.0 113.2,783.4 115.4,780.1 117.7,779.7 120.0,777.0 122.2,772.6 124.5,770.0 126.8,770.2 129.0,762.7 131.3,763.8 133.5,768.4 135.8,765.0 138.1,757.5 140.3,750.2 142.6,751.7 144.8,742.5 147.1,737.2 149.4,731.0 151.6,737.0 153.9,727.3 156.1,732.7 158.4,721.1 160.7,726.8 162.9,720.0 165.2,720.9 167.4,726.0 169.7,722.6 172.0,724.9 174.2,734.8 176.5,725.8 178.7,734.1 181.0,758.9 183.3,727.4 185.5,734.2 187.8,723.5 190.0,730.7 192.3,724.7 194.6,713.4 196.8,713.4 199.1,712.9 201.3,710.9 203.6,711.0 205.9,703.4 208.1,708.7 210.4,717.7 212.6,712.7 214.9,722.5 217.2,716.9 219.4,715.8 221.7,711.7 223.9,713.8 226.2,709.7 228.5,707.3 230.7,714.2 233.0,711.5 235.2,721.6 237.5,712.2 239.8,710.6 242.0,726.2 244.3,715.6 246.6,724.6 248.8,724.8 251.1,729.4 253.3,720.4 255.6,723.5 257.9,730.4 260.1,737.7 262.4,735.8 264.6,742.1 266.9,733.4 269.2,722.8 271.4,742.0 273.7,746.4 275.9,737.9 278.2,727.5 280.5,731.7 282.7,733.0 285.0,730.5 287.2,724.2 289.5,740.5 291.8,730.1 294.0,736.0 296.3,730.8 298.5,740.4 300.8,734.5 303.1,735.7 305.3,725.7 307.6,730.5 309.8,721.0 312.1,721.5 314.4,722.6 316.6,727.6 318.9,739.1 321.1,729.2 323.4,714.7 325.7,725.5 327.9,711.7 330.2,717.7 332.4,724.5 334.7,721.1 337.0,720.3 339.2,720.6 341.5,726.3 343.8,725.1 346.0,718.2 348.3,719.8 350.5,716.2 352.8,704.4 355.1,701.8 357.3,705.6 359.6,708.8 361.8,699.1 364.1,708.4 366.4,695.7 368.6,700.2 370.9,705.5 373.1,701.1 375.4,700.5 377.7,697.6 379.9,692.4 382.2,704.7 384.4,694.4 386.7,698.9 389.0,702.1 391.2,706.3 393.5,706.7 395.7,707.5 398.0,707.3 400.3,701.6 402.5,702.2 404.8,700.4 407.0,716.4 409.3,712.5 411.6,708.6 413.8,699.3 416.1,708.1 418.3,701.0 420.6,696.2 422.9,695.0 425.1,700.4 427.4,697.5 429.6,696.5 431.9,704.7 434.2,692.3 436.4,693.0 438.7,698.6 440.9,691.6 443.2,700.6 445.5,695.7 447.7,695.6 450.0,702.6 452.2,704.0 454.5,695.3 456.8,706.1 459.0,698.4 461.3,694.9 463.6,700.5 465.8,693.2 468.1,693.7 470.3,696.4 472.6,696.2 474.9,699.9 477.1,704.5 479.4,698.4 481.6,708.4 483.9,708.9 486.2,699.9 488.4,703.8 490.7,708.1 492.9,707.8 495.2,710.5 497.5,703.2 499.7,707.9 502.0,707.3 504.2,702.3 506.5,704.4 508.8,706.3 511.0,703.1 513.3,698.7 515.5,703.9 517.8,698.0 520.1,700.9 522.3,703.6 524.6,703.5 526.8,697.7 529.1,690.3 531.4,697.8 533.6,695.0 535.9,697.4 538.1,706.3 540.4,704.0 542.7,713.4 544.9,703.8 547.2,704.3 549.4,702.3 551.7,703.4 554.0,707.1 556.2,692.5 558.5,710.9 560.8,701.7 563.0,713.6 565.3,722.5 567.5,703.6 569.8,706.9 572.1,707.7 574.3,710.5 576.6,695.8 578.8,703.5 581.1,707.1 583.4,704.6 585.6,701.8 587.9,709.3 590.1,717.3 592.4,716.9 594.7,707.4 596.9,715.8 599.2,717.8 601.4,722.6 603.7,728.3 606.0,729.9 608.2,732.7 610.5,734.4 612.7,733.0 615.0,741.5" fill="none" stroke="#DA70F5" stroke-width="1.5" stroke-linejoin="round" marker-start="url(#mPd)" marker-mid="url(#mPd)"/>
</g>
<path d="M72.5 591.6 V1037.7 H615.0" fill="none" stroke="#000" stroke-width="2.1" stroke-linecap="square"/>
<text x="61.8" y="596.9" font-size="18.25" text-anchor="end" stroke="#000" stroke-width="0.3">22.0</text>
<text x="61.8" y="641.5" font-size="18.25" text-anchor="end" stroke="#000" stroke-width="0.3">21.8</text>
<text x="61.8" y="686.1" font-size="18.25" text-anchor="end" stroke="#000" stroke-width="0.3">21.6</text>
<text x="61.8" y="730.7" font-size="18.25" text-anchor="end" stroke="#000" stroke-width="0.3">21.4</text>
<text x="61.8" y="775.3" font-size="18.25" text-anchor="end" stroke="#000" stroke-width="0.3">21.2</text>
<text x="61.8" y="820.0" font-size="18.25" text-anchor="end" stroke="#000" stroke-width="0.3">21.0</text>
<text x="61.8" y="864.6" font-size="18.25" text-anchor="end" stroke="#000" stroke-width="0.3">20.8</text>
<text x="61.8" y="909.2" font-size="18.25" text-anchor="end" stroke="#000" stroke-width="0.3">20.6</text>
<text x="61.8" y="953.8" font-size="18.25" text-anchor="end" stroke="#000" stroke-width="0.3">20.4</text>
<text x="61.8" y="998.4" font-size="18.25" text-anchor="end" stroke="#000" stroke-width="0.3">20.2</text>
<text x="61.8" y="1043.0" font-size="18.25" text-anchor="end" stroke="#000" stroke-width="0.3">20.0</text>
<text x="72.5" y="1062.9" font-size="18.25" text-anchor="middle" stroke="#000" stroke-width="0.3">0</text>
<text x="140.3" y="1062.9" font-size="18.25" text-anchor="middle" stroke="#000" stroke-width="0.3">30</text>
<text x="208.1" y="1062.9" font-size="18.25" text-anchor="middle" stroke="#000" stroke-width="0.3">60</text>
<text x="275.9" y="1062.9" font-size="18.25" text-anchor="middle" stroke="#000" stroke-width="0.3">90</text>
<text x="343.8" y="1062.9" font-size="18.25" text-anchor="middle" stroke="#000" stroke-width="0.3">120</text>
<text x="411.6" y="1062.9" font-size="18.25" text-anchor="middle" stroke="#000" stroke-width="0.3">150</text>
<text x="479.4" y="1062.9" font-size="18.25" text-anchor="middle" stroke="#000" stroke-width="0.3">180</text>
<text x="547.2" y="1062.9" font-size="18.25" text-anchor="middle" stroke="#000" stroke-width="0.3">210</text>
<text x="615.0" y="1062.9" font-size="18.25" text-anchor="middle" stroke="#000" stroke-width="0.3">240</text>
<path d="M72.5 591.6h9.0M72.5 613.9h5.0M72.5 636.2h9.0M72.5 658.5h5.0M72.5 680.8h9.0M72.5 703.1h5.0M72.5 725.4h9.0M72.5 747.7h5.0M72.5 770.0h9.0M72.5 792.3h5.0M72.5 814.7h9.0M72.5 837.0h5.0M72.5 859.3h9.0M72.5 881.6h5.0M72.5 903.9h9.0M72.5 926.2h5.0M72.5 948.5h9.0M72.5 970.8h5.0M72.5 993.1h9.0M72.5 1015.4h5.0M72.5 1037.7h9.0M72.5 1037.7v-9.0M106.4 1037.7v-5.0M140.3 1037.7v-9.0M174.2 1037.7v-5.0M208.1 1037.7v-9.0M242.0 1037.7v-5.0M275.9 1037.7v-9.0M309.8 1037.7v-5.0M343.8 1037.7v-9.0M377.7 1037.7v-5.0M411.6 1037.7v-9.0M445.5 1037.7v-5.0M479.4 1037.7v-9.0M513.3 1037.7v-5.0M547.2 1037.7v-9.0M581.1 1037.7v-5.0M615.0 1037.7v-9.0" fill="none" stroke="#000" stroke-width="2.1"/>
<text transform="translate(20.8 814.7) rotate(-90)" font-size="23.14" text-anchor="middle" stroke="#000" stroke-width="0.3">Temperature/°C</text>
<text x="344.8" y="1097.9" font-size="22.55" text-anchor="middle" stroke="#000" stroke-width="0.3">Time/min</text>
<text x="338.8" y="1126.8" font-size="27.4" text-anchor="middle" stroke="#000" stroke-width="0.3">b. Cases II and V</text>
<polyline points="108.2,618.2 125.1,618.2 142.0,618.2" stroke="#FBC53A" stroke-width="1.5" fill="none" marker-mid="url(#mYu)"/>
<text x="145.1" y="623.4" font-size="14.47" text-anchor="start" textLength="221.6" lengthAdjust="spacingAndGlyphs" stroke="#000" stroke-width="0.35">The actual temperature of condition V</text>
<polyline points="108.2,636.4 125.1,636.4 142.0,636.4" stroke="#DA70F5" stroke-width="1.5" fill="none" marker-mid="url(#mPd)"/>
<text x="145.1" y="641.8" font-size="14.47" text-anchor="start" textLength="245.6" lengthAdjust="spacingAndGlyphs" stroke="#000" stroke-width="0.35">The calculated temperature of condition V</text>
<polyline points="302.3,976.0 319.4,976.0 336.4,976.0" stroke="#B9EC6E" stroke-width="1.5" fill="none" marker-mid="url(#mGs)"/>
<text x="339.6" y="981.4" font-size="14.47" text-anchor="start" textLength="221.0" lengthAdjust="spacingAndGlyphs" stroke="#000" stroke-width="0.35">The actual temperature of condition II</text>
<polyline points="302.3,994.4 319.4,994.4 336.4,994.4" stroke="#0B6DAE" stroke-width="1.5" fill="none" marker-mid="url(#mBc)"/>
<text x="339.6" y="999.3" font-size="14.47" text-anchor="start" textLength="245.5" lengthAdjust="spacingAndGlyphs" stroke="#000" stroke-width="0.35">The calculated temperature of condition II</text>
<rect x="612.0" y="704.1" width="4.0" height="4.8" fill="#e8101a" stroke="#000" stroke-width="1.3"/>
<rect x="612.4" y="739.6" width="4.0" height="4.8" fill="#e8101a" stroke="#000" stroke-width="1.3"/>
<rect x="611.6" y="949.2" width="4.0" height="4.8" fill="#e8101a" stroke="#000" stroke-width="1.3"/>
<rect x="612.4" y="959.3" width="4.0" height="4.8" fill="#e8101a" stroke="#000" stroke-width="1.3"/>
<text x="617.0" y="718.7" font-size="15.7" text-anchor="start" font-weight="bold" textLength="61.0" lengthAdjust="spacingAndGlyphs" stroke="#000" stroke-width="0.45">21.490°C</text>
<text x="605.5" y="760.3" font-size="15.7" text-anchor="start" font-weight="bold" textLength="61.0" lengthAdjust="spacingAndGlyphs" stroke="#000" stroke-width="0.45">21.352°C</text>
<text x="615.3" y="945.3" font-size="15.7" text-anchor="start" font-weight="bold" textLength="61.0" lengthAdjust="spacingAndGlyphs" stroke="#000" stroke-width="0.45">20.386°C</text>
<text x="611.6" y="977.4" font-size="15.7" text-anchor="start" font-weight="bold" textLength="61.0" lengthAdjust="spacingAndGlyphs" stroke="#000" stroke-width="0.45">20.365°C</text>
</g>
<g>
<clipPath id="cl9"><rect x="68.2" y="1163.3" width="700" height="455.9"/></clipPath><g clip-path="url(#cl9)">
<polyline points="69.0,1525.0 71.3,1525.5 73.6,1521.5 75.9,1520.8 78.2,1526.6 80.5,1519.5 82.8,1520.6 85.1,1521.0 87.4,1514.1 89.7,1515.6 92.0,1517.9 94.3,1512.9 96.6,1510.3 98.9,1513.3 101.2,1519.4 103.5,1516.3 105.8,1512.2 108.1,1516.1 110.4,1507.5 112.7,1507.2 115.0,1506.5 117.3,1511.8 119.6,1509.8 121.9,1511.7 124.2,1507.5 126.5,1504.4 128.8,1510.1 131.1,1507.0 133.4,1504.5 135.7,1500.7 138.0,1503.7 140.3,1499.9 142.6,1504.9 144.9,1502.1 147.2,1502.1 149.5,1503.6 151.8,1503.6 154.1,1497.3 156.4,1495.9 158.7,1494.2 161.0,1493.0 163.3,1494.0 165.6,1494.8 167.9,1488.3 170.2,1486.3 172.5,1486.7 174.8,1480.6 177.1,1482.6 179.4,1480.8 181.7,1478.1 184.0,1491.7 186.3,1489.8 188.6,1489.8 190.9,1492.5 193.2,1497.7 195.5,1490.7 197.8,1484.9 200.1,1487.4 202.4,1487.4 204.7,1480.7 207.0,1479.1 209.3,1465.4 211.6,1451.7 213.9,1451.6 216.2,1462.6 218.5,1467.1 220.8,1469.4 223.1,1465.4 225.4,1469.8 227.7,1464.3 230.0,1457.8 232.3,1460.9 234.6,1459.0 236.9,1458.5 239.2,1448.7 241.5,1447.3 243.8,1445.4 246.1,1442.7 248.4,1444.4 250.7,1445.6 253.0,1444.3 255.3,1442.7 257.6,1437.6 259.9,1443.0 262.2,1438.5 264.5,1440.3 266.8,1442.2 269.1,1439.4 271.4,1439.6 273.7,1438.3 276.0,1437.1 278.3,1441.6 280.6,1434.7 282.9,1436.9 285.2,1430.0 287.5,1432.1 289.8,1434.5 292.1,1436.2 294.4,1434.4 296.7,1436.7 299.0,1436.5 301.3,1442.0 303.6,1439.5 305.9,1443.3 308.2,1437.9 310.5,1441.8 312.8,1436.2 315.1,1430.4 317.4,1430.5 319.7,1439.7 322.0,1431.3 324.3,1437.2 326.6,1439.4 328.9,1435.3 331.2,1436.0 333.5,1436.5 335.8,1435.9 338.1,1434.7 340.4,1435.6 342.7,1438.1 345.0,1433.1 347.3,1431.5 349.6,1428.9 351.9,1425.2 354.2,1433.0 356.5,1426.8 358.8,1430.8 361.1,1427.4 363.4,1434.6 365.7,1433.0 368.0,1429.1 370.3,1434.9 372.6,1425.0 374.9,1423.9 377.2,1422.5 379.5,1429.1 381.8,1429.9 384.1,1422.5 386.4,1425.2 388.7,1422.9 391.0,1415.3 393.3,1421.9 395.6,1423.8 397.9,1428.4 400.2,1425.4 402.5,1434.0 404.8,1432.7 407.1,1426.8 409.4,1430.6 411.7,1433.7 414.0,1423.1 416.3,1428.6 418.6,1421.1 420.9,1425.5 423.2,1418.5 425.5,1417.7 427.8,1415.5 430.1,1408.2 432.4,1412.5 434.7,1413.3 437.0,1408.0 439.3,1404.4 441.6,1407.2 443.9,1409.0 446.2,1400.2 448.5,1400.3 450.8,1406.4 453.1,1398.2 455.4,1395.2 457.7,1393.8 460.0,1399.1 462.3,1398.7 464.6,1397.1 466.9,1398.0 469.2,1401.6 471.5,1402.7 473.8,1404.4 476.1,1401.9 478.4,1396.1 480.7,1403.9 483.0,1406.2 485.3,1399.2 487.6,1400.4 489.9,1404.7 492.2,1405.9 494.5,1401.1 496.8,1403.0 499.1,1404.9 501.4,1400.6 503.7,1394.6 506.0,1402.9 508.3,1401.6 510.6,1395.2 512.9,1403.4 515.2,1395.9 517.5,1403.5 519.8,1393.1 522.1,1402.0 524.4,1393.8 526.7,1390.0 529.0,1396.6 531.3,1395.0 533.6,1398.5 535.9,1394.6 538.2,1393.7 540.5,1391.3 542.8,1385.6 545.1,1385.2 547.4,1391.3 549.7,1393.3 552.0,1394.0 554.3,1392.9 556.6,1394.5 558.9,1401.2 561.2,1399.1 563.5,1402.8 565.8,1398.0 568.1,1398.7 570.4,1403.8 572.7,1401.3 575.0,1397.6 577.3,1401.4 579.6,1398.7 581.9,1396.1 584.2,1402.3 586.5,1401.1 588.8,1400.8 591.1,1406.3 593.4,1401.4 595.7,1399.4 598.0,1404.0 600.3,1409.6 602.6,1407.3 604.9,1405.2 607.2,1409.3 609.5,1417.2 611.8,1416.6 614.1,1417.3 616.4,1416.2 618.7,1415.1 621.0,1410.1" fill="none" stroke="#B9EC6E" stroke-width="1.5" stroke-linejoin="round" marker-start="url(#mGs)" marker-mid="url(#mGs)"/>
<polyline points="69.0,1445.3 71.3,1445.3 73.6,1486.4 75.9,1484.2 78.2,1468.0 80.5,1480.2 82.8,1479.9 85.1,1458.8 87.4,1465.3 89.7,1471.5 92.0,1477.4 94.3,1468.1 96.6,1465.8 98.9,1453.3 101.2,1468.2 103.5,1468.3 105.8,1462.7 108.1,1483.9 110.4,1478.2 112.7,1477.1 115.0,1480.0 117.3,1470.1 119.6,1462.5 121.9,1474.4 124.2,1468.6 126.5,1459.9 128.8,1461.6 131.1,1469.5 133.4,1471.8 135.7,1483.9 138.0,1467.4 140.3,1471.3 142.6,1467.6 144.9,1427.0 147.2,1423.0 149.5,1423.8 151.8,1422.1 154.1,1433.7 156.4,1425.7 158.7,1428.4 161.0,1441.4 163.3,1432.1 165.6,1449.7 167.9,1443.5 170.2,1430.6 172.5,1426.4 174.8,1422.1 177.1,1433.3 179.4,1437.0 181.7,1451.4 184.0,1452.6 186.3,1450.9 188.6,1436.0 190.9,1428.9 193.2,1433.5 195.5,1433.2 197.8,1441.5 200.1,1445.2 202.4,1438.4 204.7,1440.8 207.0,1425.5 209.3,1436.6 211.6,1434.9 213.9,1443.6 216.2,1449.2 218.5,1483.0 220.8,1474.0 223.1,1465.5 225.4,1472.9 227.7,1482.8 230.0,1491.7 232.3,1480.0 234.6,1467.9 236.9,1457.1 239.2,1443.0 241.5,1440.0 243.8,1441.7 246.1,1442.7 248.4,1450.1 250.7,1445.4 253.0,1445.3 255.3,1445.9 257.6,1439.1 259.9,1445.0 262.2,1454.1 264.5,1454.0 266.8,1451.1 269.1,1438.1 271.4,1440.2 273.7,1438.1 276.0,1450.4 278.3,1439.9 280.6,1436.5 282.9,1429.5 285.2,1456.8 287.5,1470.3 289.8,1454.6 292.1,1450.6 294.4,1446.1 296.7,1455.7 299.0,1461.4 301.3,1466.0 303.6,1479.2 305.9,1473.4 308.2,1465.4 310.5,1456.8 312.8,1452.4 315.1,1447.0 317.4,1446.9 319.7,1448.4 322.0,1445.8 324.3,1458.8 326.6,1447.9 328.9,1459.5 331.2,1458.8 333.5,1456.0 335.8,1447.0 338.1,1438.6 340.4,1444.0 342.7,1448.4 345.0,1444.5 347.3,1440.5 349.6,1442.2 351.9,1447.3 354.2,1440.9 356.5,1441.4 358.8,1438.5 361.1,1435.9 363.4,1450.1 365.7,1446.2 368.0,1438.5 370.3,1449.6 372.6,1447.4 374.9,1443.5 377.2,1433.6 379.5,1441.8 381.8,1437.4 384.1,1437.4 386.4,1432.8 388.7,1442.9 391.0,1437.1 393.3,1450.6 395.6,1450.3 397.9,1451.2 400.2,1448.6 402.5,1444.5 404.8,1441.5 407.1,1447.0 409.4,1440.4 411.7,1435.9 414.0,1430.9 416.3,1439.5 418.6,1437.6 420.9,1438.6 423.2,1431.9 425.5,1434.6 427.8,1433.6 430.1,1422.0 432.4,1431.5 434.7,1430.4 437.0,1428.9 439.3,1432.0 441.6,1419.8 443.9,1413.7 446.2,1417.0 448.5,1423.0 450.8,1414.3 453.1,1425.5 455.4,1422.3 457.7,1411.0 460.0,1403.1 462.3,1403.8 464.6,1409.9 466.9,1405.9 469.2,1396.2 471.5,1408.5 473.8,1410.0 476.1,1407.4 478.4,1412.6 480.7,1412.3 483.0,1398.8 485.3,1413.0 487.6,1407.8 489.9,1406.6 492.2,1422.1 494.5,1421.9 496.8,1407.9 499.1,1410.9 501.4,1411.9 503.7,1407.0 506.0,1406.7 508.3,1420.7 510.6,1424.0 512.9,1421.5 515.2,1406.9 517.5,1399.8 519.8,1406.1 522.1,1417.5 524.4,1416.5 526.7,1414.4 529.0,1420.1 531.3,1418.0 533.6,1407.4 535.9,1412.2 538.2,1410.3 540.5,1413.9 542.8,1406.6 545.1,1407.8 547.4,1407.3 549.7,1403.7 552.0,1407.6 554.3,1413.0 556.6,1406.1 558.9,1409.4 561.2,1413.1 563.5,1417.3 565.8,1425.3 568.1,1432.6 570.4,1418.1 572.7,1422.1 575.0,1416.0 577.3,1432.1 579.6,1423.9 581.9,1425.7 584.2,1427.3 586.5,1433.3 588.8,1429.6 591.1,1395.4 593.4,1443.5 595.7,1444.4 598.0,1441.0 600.3,1442.8 602.6,1447.5 604.9,1436.7 607.2,1447.1 609.5,1452.4 611.8,1446.6 614.1,1450.3 616.4,1459.6 618.7,1436.4 621.0,1428.8" fill="none" stroke="#0B6DAE" stroke-width="1.5" stroke-linejoin="round" marker-start="url(#mBc)" marker-mid="url(#mBc)"/>
<polyline points="69.0,1306.4 71.3,1304.0 73.6,1304.0 75.9,1304.5 78.2,1304.2 80.5,1304.7 82.8,1303.3 85.1,1306.9 87.4,1301.1 89.7,1310.5 92.0,1303.9 94.3,1305.0 96.6,1302.5 98.9,1303.9 101.2,1303.7 103.5,1310.5 105.8,1309.7 108.1,1309.5 110.4,1314.2 112.7,1308.7 115.0,1310.6 117.3,1311.7 119.6,1310.7 121.9,1311.4 124.2,1313.9 126.5,1312.9 128.8,1310.1 131.1,1314.5 133.4,1311.9 135.7,1310.3 138.0,1312.2 140.3,1310.0 142.6,1313.4 144.9,1308.1 147.2,1310.6 149.5,1311.5 151.8,1301.3 154.1,1301.6 156.4,1306.0 158.7,1308.9 161.0,1306.7 163.3,1299.4 165.6,1296.4 167.9,1293.7 170.2,1293.9 172.5,1295.8 174.8,1293.4 177.1,1298.2 179.4,1291.7 181.7,1289.8 184.0,1297.8 186.3,1295.5 188.6,1287.8 190.9,1295.0 193.2,1287.7 195.5,1292.4 197.8,1290.6 200.1,1289.7 202.4,1289.2 204.7,1287.1 207.0,1289.7 209.3,1287.7 211.6,1294.0 213.9,1293.5 216.2,1288.1 218.5,1291.3 220.8,1289.5 223.1,1293.4 225.4,1292.6 227.7,1289.3 230.0,1287.9 232.3,1288.6 234.6,1284.0 236.9,1285.6 239.2,1290.3 241.5,1288.4 243.8,1290.5 246.1,1287.2 248.4,1292.0 250.7,1285.2 253.0,1288.5 255.3,1293.3 257.6,1284.7 259.9,1284.8 262.2,1286.2 264.5,1289.5 266.8,1286.7 269.1,1293.0 271.4,1286.6 273.7,1285.8 276.0,1290.5 278.3,1286.7 280.6,1290.9 282.9,1303.5 285.2,1287.9 287.5,1289.0 289.8,1291.7 292.1,1292.9 294.4,1293.3 296.7,1294.3 299.0,1295.2 301.3,1292.7 303.6,1294.1 305.9,1287.4 308.2,1294.8 310.5,1294.7 312.8,1290.8 315.1,1290.7 317.4,1297.7 319.7,1293.0 322.0,1294.0 324.3,1290.9 326.6,1290.0 328.9,1299.2 331.2,1292.0 333.5,1298.4 335.8,1292.3 338.1,1298.6 340.4,1300.3 342.7,1302.4 345.0,1299.9 347.3,1295.8 349.6,1294.4 351.9,1301.4 354.2,1301.2 356.5,1302.0 358.8,1296.6 361.1,1299.3 363.4,1302.1 365.7,1303.0 368.0,1297.6 370.3,1302.0 372.6,1293.6 374.9,1295.8 377.2,1294.1 379.5,1297.0 381.8,1302.3 384.1,1297.4 386.4,1299.8 388.7,1299.8 391.0,1297.2 393.3,1300.3 395.6,1299.3 397.9,1301.4 400.2,1302.2 402.5,1307.5 404.8,1299.3 407.1,1305.9 409.4,1304.5 411.7,1306.8 414.0,1306.5 416.3,1305.6 418.6,1302.3 420.9,1301.7 423.2,1301.3 425.5,1307.1 427.8,1301.9 430.1,1300.5 432.4,1302.1 434.7,1305.7 437.0,1309.8 439.3,1312.7 441.6,1311.8 443.9,1312.2 446.2,1309.4 448.5,1304.1 450.8,1305.8 453.1,1304.1 455.4,1303.0 457.7,1302.6 460.0,1298.3 462.3,1297.1 464.6,1298.5 466.9,1300.8 469.2,1293.8 471.5,1295.5 473.8,1300.9 476.1,1297.8 478.4,1299.0 480.7,1290.8 483.0,1295.5 485.3,1292.3 487.6,1287.2 489.9,1282.6 492.2,1283.2 494.5,1281.6 496.8,1285.3 499.1,1278.6 501.4,1282.3 503.7,1274.3 506.0,1277.0 508.3,1274.0 510.6,1270.7 512.9,1269.2 515.2,1265.8 517.5,1268.2 519.8,1266.0 522.1,1258.5 524.4,1255.8 526.7,1260.5 529.0,1258.9 531.3,1259.0 533.6,1258.4 535.9,1258.4 538.2,1255.9 540.5,1261.5 542.8,1259.2 545.1,1258.4 547.4,1259.8 549.7,1260.9 552.0,1254.1 554.3,1252.5 556.6,1249.3 558.9,1255.8 561.2,1258.1 563.5,1251.7 565.8,1251.0 568.1,1253.2 570.4,1253.7 572.7,1255.9 575.0,1249.9 577.3,1255.1 579.6,1250.5 581.9,1250.4 584.2,1252.1 586.5,1242.9 588.8,1253.1 591.1,1257.5 593.4,1251.6 595.7,1253.2 598.0,1254.6 600.3,1252.7 602.6,1262.1 604.9,1255.2 607.2,1253.3 609.5,1258.5 611.8,1252.3 614.1,1254.5 616.4,1233.9 618.7,1256.3 621.0,1260.7" fill="none" stroke="#FBC53A" stroke-width="1.5" stroke-linejoin="round" marker-start="url(#mYu)" marker-mid="url(#mYu)"/>
<polyline points="69.0,1253.6 71.3,1287.2 73.6,1290.7 75.9,1293.8 78.2,1295.2 80.5,1302.3 82.8,1309.0 85.1,1310.6 87.4,1311.7 89.7,1320.9 92.0,1312.1 94.3,1322.1 96.6,1321.8 98.9,1310.2 101.2,1309.3 103.5,1315.9 105.8,1318.4 108.1,1324.2 110.4,1322.4 112.7,1314.4 115.0,1313.4 117.3,1318.4 119.6,1327.0 121.9,1321.8 124.2,1320.2 126.5,1324.6 128.8,1336.5 131.1,1332.5 133.4,1326.9 135.7,1332.5 138.0,1324.9 140.3,1334.7 142.6,1332.0 144.9,1325.8 147.2,1316.8 149.5,1306.0 151.8,1311.8 154.1,1306.9 156.4,1308.2 158.7,1314.5 161.0,1319.5 163.3,1330.3 165.6,1298.5 167.9,1303.0 170.2,1282.1 172.5,1296.2 174.8,1290.6 177.1,1313.2 179.4,1306.1 181.7,1287.7 184.0,1289.0 186.3,1297.2 188.6,1299.6 190.9,1289.1 193.2,1307.1 195.5,1311.0 197.8,1314.0 200.1,1295.3 202.4,1289.1 204.7,1297.2 207.0,1282.1 209.3,1294.6 211.6,1282.5 213.9,1299.5 216.2,1294.7 218.5,1296.7 220.8,1275.0 223.1,1305.1 225.4,1287.8 227.7,1299.3 230.0,1308.4 232.3,1299.1 234.6,1312.4 236.9,1286.4 239.2,1284.7 241.5,1287.3 243.8,1310.0 246.1,1287.0 248.4,1310.6 250.7,1288.4 253.0,1305.6 255.3,1294.3 257.6,1290.6 259.9,1305.1 262.2,1301.6 264.5,1271.4 266.8,1307.8 269.1,1290.6 271.4,1304.2 273.7,1292.3 276.0,1294.2 278.3,1288.4 280.6,1292.9 282.9,1299.1 285.2,1302.0 287.5,1305.6 289.8,1297.2 292.1,1284.4 294.4,1294.4 296.7,1277.6 299.0,1299.9 301.3,1292.7 303.6,1298.3 305.9,1311.2 308.2,1314.3 310.5,1313.2 312.8,1306.4 315.1,1284.8 317.4,1283.0 319.7,1298.1 322.0,1291.8 324.3,1305.0 326.6,1300.3 328.9,1312.0 331.2,1303.5 333.5,1303.1 335.8,1329.4 338.1,1314.2 340.4,1311.6 342.7,1311.7 345.0,1310.2 347.3,1311.4 349.6,1306.9 351.9,1309.3 354.2,1314.3 356.5,1305.6 358.8,1312.8 361.1,1307.2 363.4,1327.6 365.7,1309.4 368.0,1306.0 370.3,1313.2 372.6,1311.2 374.9,1314.0 377.2,1300.7 379.5,1316.2 381.8,1316.2 384.1,1310.5 386.4,1318.5 388.7,1306.2 391.0,1310.6 393.3,1316.3 395.6,1318.7 397.9,1318.4 400.2,1312.4 402.5,1319.3 404.8,1324.7 407.1,1309.9 409.4,1315.6 411.7,1332.0 414.0,1324.2 416.3,1324.6 418.6,1314.3 420.9,1316.9 423.2,1316.6 425.5,1315.9 427.8,1321.8 430.1,1320.5 432.4,1311.8 434.7,1324.7 437.0,1319.5 439.3,1330.5 441.6,1344.5 443.9,1326.5 446.2,1310.8 448.5,1306.5 450.8,1314.7 453.1,1318.8 455.4,1307.2 457.7,1308.7 460.0,1310.4 462.3,1308.7 464.6,1312.9 466.9,1295.0 469.2,1297.6 471.5,1300.3 473.8,1315.7 476.1,1315.8 478.4,1307.5 480.7,1302.0 483.0,1305.9 485.3,1293.8 487.6,1292.9 489.9,1291.6 492.2,1283.9 494.5,1287.4 496.8,1284.2 499.1,1276.9 501.4,1275.0 503.7,1274.9 506.0,1274.1 508.3,1279.5 510.6,1278.3 512.9,1275.2 515.2,1274.3 517.5,1268.8 519.8,1266.1 522.1,1225.0 524.4,1236.0 526.7,1239.7 529.0,1252.5 531.3,1258.1 533.6,1247.9 535.9,1240.0 538.2,1232.7 540.5,1229.5 542.8,1247.5 545.1,1238.4 547.4,1231.4 549.7,1242.6 552.0,1245.2 554.3,1248.1 556.6,1235.5 558.9,1239.0 561.2,1228.6 563.5,1235.1 565.8,1251.4 568.1,1277.6 570.4,1266.9 572.7,1252.0 575.0,1242.4 577.3,1236.3 579.6,1250.6 581.9,1253.6 584.2,1254.6 586.5,1219.7 588.8,1244.2 591.1,1235.6 593.4,1245.5 595.7,1254.3 598.0,1237.0 600.3,1246.1 602.6,1252.1 604.9,1247.0 607.2,1243.2 609.5,1255.5 611.8,1235.6 614.1,1212.5 616.4,1230.1 618.7,1240.2 621.0,1251.3" fill="none" stroke="#DA70F5" stroke-width="1.5" stroke-linejoin="round" marker-start="url(#mPd)" marker-mid="url(#mPd)"/>
</g>
<path d="M69.0 1173.3 V1619.2 H621.0" fill="none" stroke="#000" stroke-width="2.1" stroke-linecap="square"/>
<text x="58.2" y="1178.9" font-size="18.25" text-anchor="end" stroke="#000" stroke-width="0.3">23.0</text>
<text x="58.2" y="1223.5" font-size="18.25" text-anchor="end" stroke="#000" stroke-width="0.3">22.5</text>
<text x="58.2" y="1268.1" font-size="18.25" text-anchor="end" stroke="#000" stroke-width="0.3">22.0</text>
<text x="58.2" y="1312.7" font-size="18.25" text-anchor="end" stroke="#000" stroke-width="0.3">21.5</text>
<text x="58.2" y="1357.3" font-size="18.25" text-anchor="end" stroke="#000" stroke-width="0.3">21.0</text>
<text x="58.2" y="1401.8" font-size="18.25" text-anchor="end" stroke="#000" stroke-width="0.3">20.5</text>
<text x="58.2" y="1446.4" font-size="18.25" text-anchor="end" stroke="#000" stroke-width="0.3">20.0</text>
<text x="58.2" y="1491.0" font-size="18.25" text-anchor="end" stroke="#000" stroke-width="0.3">19.5</text>
<text x="58.2" y="1535.6" font-size="18.25" text-anchor="end" stroke="#000" stroke-width="0.3">19.0</text>
<text x="58.2" y="1580.2" font-size="18.25" text-anchor="end" stroke="#000" stroke-width="0.3">18.5</text>
<text x="58.2" y="1624.8" font-size="18.25" text-anchor="end" stroke="#000" stroke-width="0.3">18.0</text>
<text x="69.0" y="1643.9" font-size="18.25" text-anchor="middle" stroke="#000" stroke-width="0.3">0</text>
<text x="138.0" y="1643.9" font-size="18.25" text-anchor="middle" stroke="#000" stroke-width="0.3">30</text>
<text x="207.0" y="1643.9" font-size="18.25" text-anchor="middle" stroke="#000" stroke-width="0.3">60</text>
<text x="276.0" y="1643.9" font-size="18.25" text-anchor="middle" stroke="#000" stroke-width="0.3">90</text>
<text x="345.0" y="1643.9" font-size="18.25" text-anchor="middle" stroke="#000" stroke-width="0.3">120</text>
<text x="414.0" y="1643.9" font-size="18.25" text-anchor="middle" stroke="#000" stroke-width="0.3">150</text>
<text x="483.0" y="1643.9" font-size="18.25" text-anchor="middle" stroke="#000" stroke-width="0.3">180</text>
<text x="552.0" y="1643.9" font-size="18.25" text-anchor="middle" stroke="#000" stroke-width="0.3">210</text>
<text x="621.0" y="1643.9" font-size="18.25" text-anchor="middle" stroke="#000" stroke-width="0.3">240</text>
<path d="M69.0 1173.3h9.0M69.0 1195.6h5.0M69.0 1217.9h9.0M69.0 1240.2h5.0M69.0 1262.5h9.0M69.0 1284.8h5.0M69.0 1307.1h9.0M69.0 1329.4h5.0M69.0 1351.7h9.0M69.0 1374.0h5.0M69.0 1396.2h9.0M69.0 1418.5h5.0M69.0 1440.8h9.0M69.0 1463.1h5.0M69.0 1485.4h9.0M69.0 1507.7h5.0M69.0 1530.0h9.0M69.0 1552.3h5.0M69.0 1574.6h9.0M69.0 1596.9h5.0M69.0 1619.2h9.0M69.0 1619.2v-9.0M103.5 1619.2v-5.0M138.0 1619.2v-9.0M172.5 1619.2v-5.0M207.0 1619.2v-9.0M241.5 1619.2v-5.0M276.0 1619.2v-9.0M310.5 1619.2v-5.0M345.0 1619.2v-9.0M379.5 1619.2v-5.0M414.0 1619.2v-9.0M448.5 1619.2v-5.0M483.0 1619.2v-9.0M517.5 1619.2v-5.0M552.0 1619.2v-9.0M586.5 1619.2v-5.0M621.0 1619.2v-9.0" fill="none" stroke="#000" stroke-width="2.1"/>
<text transform="translate(17.3 1396.2) rotate(-90)" font-size="23.24" text-anchor="middle" stroke="#000" stroke-width="0.3">Temperature/°C</text>
<text x="345.5" y="1680.2" font-size="22.55" text-anchor="middle" stroke="#000" stroke-width="0.3">Time/min</text>
<text x="338.9" y="1717.3" font-size="27.4" text-anchor="middle" stroke="#000" stroke-width="0.3">c. Cases IV and VI</text>
<polyline points="114.1,1204.3 131.2,1204.3 148.4,1204.3" stroke="#FBC53A" stroke-width="1.5" fill="none" marker-mid="url(#mYu)"/>
<text x="152.4" y="1209.7" font-size="14.7" text-anchor="start" textLength="229.9" lengthAdjust="spacingAndGlyphs" stroke="#000" stroke-width="0.35">The actual temperature of condition VI</text>
<polyline points="114.1,1222.7 131.2,1222.7 148.4,1222.7" stroke="#DA70F5" stroke-width="1.5" fill="none" marker-mid="url(#mPd)"/>
<text x="152.4" y="1227.9" font-size="14.7" text-anchor="start" textLength="254.6" lengthAdjust="spacingAndGlyphs" stroke="#000" stroke-width="0.35">The calculated temperature of condition VI</text>
<polyline points="315.2,1547.2 332.4,1547.2 349.7,1547.2" stroke="#B9EC6E" stroke-width="1.5" fill="none" marker-mid="url(#mGs)"/>
<text x="353.2" y="1552.3" font-size="14.67" text-anchor="start" textLength="229.7" lengthAdjust="spacingAndGlyphs" stroke="#000" stroke-width="0.35">The actual temperature of condition IV</text>
<polyline points="315.2,1565.6 332.4,1565.6 349.7,1565.6" stroke="#0B6DAE" stroke-width="1.5" fill="none" marker-mid="url(#mBc)"/>
<text x="353.2" y="1570.7" font-size="14.67" text-anchor="start" textLength="253.9" lengthAdjust="spacingAndGlyphs" stroke="#000" stroke-width="0.35">The calculated temperature of condition IV</text>
<rect x="618.2" y="1250.9" width="4.0" height="4.8" fill="#e8101a" stroke="#000" stroke-width="1.3"/>
<rect x="618.2" y="1259.1" width="4.0" height="4.8" fill="#e8101a" stroke="#000" stroke-width="1.3"/>
<rect x="618.8" y="1407.7" width="4.0" height="4.8" fill="#e8101a" stroke="#000" stroke-width="1.3"/>
<rect x="617.0" y="1426.1" width="4.0" height="4.8" fill="#e8101a" stroke="#000" stroke-width="1.3"/>
<text x="624.0" y="1256.6" font-size="15.7" text-anchor="start" font-weight="bold" textLength="61.0" lengthAdjust="spacingAndGlyphs" stroke="#000" stroke-width="0.45">22.125°C</text>
<text x="594.8" y="1279.3" font-size="15.7" text-anchor="start" font-weight="bold" textLength="61.0" lengthAdjust="spacingAndGlyphs" stroke="#000" stroke-width="0.45">22.021°C</text>
<text x="619.6" y="1404.5" font-size="15.7" text-anchor="start" font-weight="bold" textLength="61.0" lengthAdjust="spacingAndGlyphs" stroke="#000" stroke-width="0.45">20.345°C</text>
<text x="624.0" y="1428.6" font-size="15.7" text-anchor="start" font-weight="bold" textLength="61.0" lengthAdjust="spacingAndGlyphs" stroke="#000" stroke-width="0.45">20.135°C</text>
</g>
</svg>
</body></html>
